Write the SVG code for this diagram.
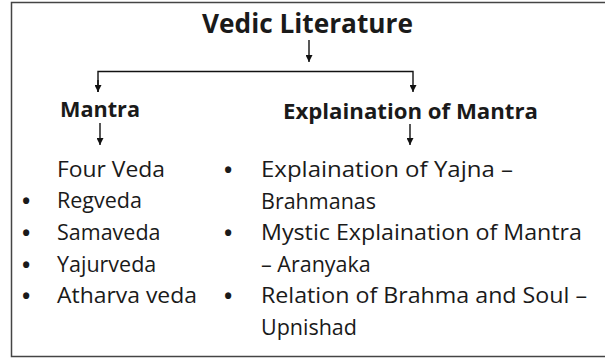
<svg xmlns="http://www.w3.org/2000/svg" width="605" height="358" viewBox="0 0 605 358">
<style>
.t{font-family:"Open Sans","Noto Sans",sans-serif;fill:#1a1a1a}
.h{font-weight:bold}
.b{font-size:21.5px}
.d{font-size:22px;font-weight:bold}
.c{stroke:#111;stroke-width:1.4;fill:none}
</style>
<defs>
<marker id="ah" viewBox="0 0 10 10" refX="10" refY="5" markerWidth="5" markerHeight="5" orient="auto" markerUnits="strokeWidth">
<path d="M0,0 L10,5 L0,10 z" fill="#111"/>
</marker>
</defs>
<rect x="11.5" y="2.5" width="620" height="354" fill="#fff" stroke="#444" stroke-width="1.5"/>
<g id="connectors">
<line class="c" x1="309" y1="40" x2="309" y2="62" marker-end="url(#ah)"/>
<polyline class="c" points="98,92 98,71.5 413,71.5 413,92" marker-end="url(#ah)"/>
<line class="c" x1="98" y1="80" x2="98" y2="92" marker-end="url(#ah)"/>
<line class="c" x1="100" y1="123" x2="100" y2="145" marker-end="url(#ah)"/>
<line class="c" x1="410" y1="124" x2="410" y2="145" marker-end="url(#ah)"/>
</g>
<g id="title"><text class="t h" x="202" y="33" font-size="26" textLength="211" lengthAdjust="spacingAndGlyphs">Vedic Literature</text></g>
<g id="mantra"><text class="t h" x="60" y="117" font-size="21.5" textLength="80" lengthAdjust="spacingAndGlyphs">Mantra</text></g>
<g id="explanation"><text class="t h" x="283" y="119" font-size="21.5" textLength="255" lengthAdjust="spacingAndGlyphs">Explaination of Mantra</text></g>
<g id="mantra-list" class="t b">
<text x="57" y="177" textLength="108" lengthAdjust="spacingAndGlyphs">Four Veda</text>
<text class="d" x="22" y="209">•</text><text x="57" y="208">Regveda</text>
<text class="d" x="22" y="241">•</text><text x="57" y="240">Samaveda</text>
<text class="d" x="22" y="272.5">•</text><text x="57" y="271.5">Yajurveda</text>
<text class="d" x="22" y="304">•</text><text x="57" y="303" textLength="140" lengthAdjust="spacingAndGlyphs">Atharva veda</text>
</g>
<g id="explanation-list" class="t b">
<text class="d" x="224" y="178">•</text><text x="261" y="177" textLength="252" lengthAdjust="spacingAndGlyphs">Explaination of Yajna –</text>
<text x="261" y="208.5">Brahmanas</text>
<text class="d" x="224" y="241">•</text><text x="261" y="240" textLength="321" lengthAdjust="spacingAndGlyphs">Mystic Explaination of Mantra</text>
<text x="261" y="272">– Aranyaka</text>
<text class="d" x="224" y="304">•</text><text x="261" y="303" textLength="326" lengthAdjust="spacingAndGlyphs">Relation of Brahma and Soul –</text>
<text x="261" y="335">Upnishad</text>
</g>
</svg>
